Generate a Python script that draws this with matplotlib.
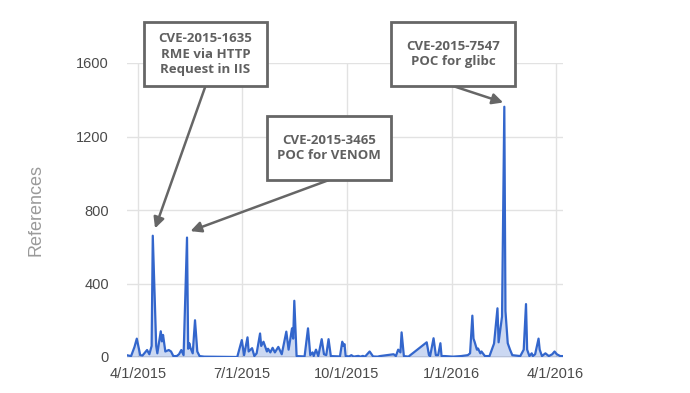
import numpy as np
import pandas as pd
import matplotlib
matplotlib.use("Agg")
import matplotlib.pyplot as plt
from matplotlib.patches import Rectangle

# daily references
dates = [
    "2015-03-22", "2015-03-26", "2015-03-29", "2015-03-31", "2015-04-03", "2015-04-05",
    "2015-04-09", "2015-04-11", "2015-04-13", "2015-04-14", "2015-04-17", "2015-04-18",
    "2015-04-21", "2015-04-22", "2015-04-23", "2015-04-25", "2015-04-28", "2015-04-30",
    "2015-05-02", "2015-05-05", "2015-05-07", "2015-05-09", "2015-05-11", "2015-05-14",
    "2015-05-15", "2015-05-16", "2015-05-17", "2015-05-19", "2015-05-21", "2015-05-23",
    "2015-05-25", "2015-05-29", "2015-06-27", "2015-07-01", "2015-07-03", "2015-07-06",
    "2015-07-07", "2015-07-10", "2015-07-12", "2015-07-14", "2015-07-17", "2015-07-18",
    "2015-07-20", "2015-07-23", "2015-07-24", "2015-07-26", "2015-07-28", "2015-07-30",
    "2015-08-02", "2015-08-05", "2015-08-09", "2015-08-11", "2015-08-14", "2015-08-15",
    "2015-08-16", "2015-08-18", "2015-08-25", "2015-08-28", "2015-08-30", "2015-09-01",
    "2015-09-02", "2015-09-04", "2015-09-06", "2015-09-09", "2015-09-11", "2015-09-13",
    "2015-09-15", "2015-09-17", "2015-09-25", "2015-09-27", "2015-09-28", "2015-09-29",
    "2015-09-30", "2015-10-03", "2015-10-05", "2015-10-07", "2015-10-11", "2015-10-13",
    "2015-10-15", "2015-10-17", "2015-10-21", "2015-10-24", "2015-10-28", "2015-10-30",
    "2015-11-11", "2015-11-13", "2015-11-15", "2015-11-17", "2015-11-18", "2015-11-20",
    "2015-11-24", "2015-12-10", "2015-12-12", "2015-12-13", "2015-12-16", "2015-12-18",
    "2015-12-20", "2015-12-22", "2015-12-23", "2015-12-26", "2016-01-02", "2016-01-09",
    "2016-01-15", "2016-01-17", "2016-01-19", "2016-01-20", "2016-01-21", "2016-01-23",
    "2016-01-24", "2016-01-26", "2016-01-27", "2016-01-30", "2016-02-03", "2016-02-07",
    "2016-02-10", "2016-02-11", "2016-02-14", "2016-02-16", "2016-02-17", "2016-02-19",
    "2016-02-21", "2016-02-23", "2016-03-01", "2016-03-04", "2016-03-06", "2016-03-07",
    "2016-03-09", "2016-03-11", "2016-03-12", "2016-03-14", "2016-03-17", "2016-03-18",
    "2016-03-20", "2016-03-23", "2016-03-26", "2016-03-29", "2016-03-31", "2016-04-02",
    "2016-04-05", "2016-04-07",
]
references = [
    10, 5, 55, 100, 10, 8,
    38, 15, 60, 660, 60, 20,
    140, 85, 120, 30, 38, 30,
    5, 5, 15, 38, 10, 650,
    45, 75, 50, 20, 200, 30,
    5, 2, 0, 92, 10, 107,
    30, 48, 5, 20, 128, 60,
    83, 30, 45, 25, 50, 25,
    55, 15, 138, 40, 156, 100,
    306, 5, 3, 156, 10, 25,
    5, 40, 5, 97, 15, 10,
    97, 5, 3, 83, 60, 70,
    5, 3, 10, 2, 6, 2,
    6, 2, 30, 3, 2, 5,
    15, 5, 40, 25, 134, 5,
    2, 80, 10, 5, 102, 10,
    10, 75, 5, 5, 2, 5,
    10, 20, 225, 100, 82, 40,
    46, 20, 30, 5, 5, 73,
    265, 80, 220, 1362, 250, 75,
    40, 10, 5, 40, 288, 40,
    5, 20, 5, 15, 100, 40,
    5, 20, 5, 15, 30, 15,
    5, 5,
]

tick_dates = ["2015-04-01", "2015-07-01", "2015-10-01", "2016-01-01", "2016-04-01"]
tick_labels = ["4/1/2015", "7/1/2015", "10/1/2015", "1/1/2016", "4/1/2016"]
y_ticks = [0, 400, 800, 1200, 1600]

# annotations: box text, arrow tip (date, value)
notes = ["CVE-2015-1635\nRME via HTTP\nRequest in IIS",
         "CVE-2015-3465\nPOC for VENOM",
         "CVE-2015-7547\nPOC for glibc"]
note_dates = ["2015-04-16", "2015-05-17", "2016-02-15"]
note_values = [700, 685, 1385]

W, H = 690, 393
fig = plt.figure(figsize=(W / 100, H / 100), dpi=100)
ax = fig.add_axes([127 / W, 1 - 357 / H, 436 / W, 294 / H])

x = pd.to_datetime(dates)
ax.fill_between(x, references, 0, color="#3366cc", alpha=0.25, lw=0)
ax.plot(x, references, color="#3366cc", lw=1.6, zorder=3)

ax.set_xlim(pd.Timestamp("2015-03-22 10:00"), pd.Timestamp("2016-04-07 10:00"))
ax.set_ylim(0, 1600)
ax.set_xticks(pd.to_datetime(tick_dates))
ax.set_xticklabels(tick_labels)
ax.set_yticks(y_ticks)
ax.set_yticklabels([str(v) for v in y_ticks])

for t in pd.to_datetime(tick_dates):
    ax.axvline(t, color="#e2e2e2", lw=1, zorder=0)
for v in y_ticks[1:]:
    ax.axhline(v, color="#e2e2e2", lw=1, zorder=0)
ax.axhline(0, color="#666666", lw=1, zorder=2)

for s in ax.spines.values():
    s.set_visible(False)
ax.tick_params(length=0, labelsize=10.5, labelcolor="#4a4a4a")
ax.tick_params(axis="y", pad=13)
ax.tick_params(axis="x", pad=7)
for lab in ax.get_xticklabels() + ax.get_yticklabels():
    lab.set_fontfamily("Liberation Sans")

fig.text(36 / W, 1 - 210 / H, "References", rotation=90, ha="center", va="center",
         fontsize=13, color="#9a9a9a", family="Liberation Sans")

# boxes in pixel coords (left, top, width, height)
boxes = [(144, 22, 123, 64), (267, 116, 124, 64), (391, 22, 124, 64)]
for (bx, by, bw, bh), txt, d, v in zip(boxes, notes, note_dates, note_values):
    fig.patches.append(Rectangle((bx / W, 1 - (by + bh) / H), bw / W, bh / H,
                                 transform=fig.transFigure, fill=True,
                                 facecolor="white", edgecolor="#666666", lw=2,
                                 zorder=5))
    fig.text((bx + bw / 2) / W, 1 - (by + bh / 2) / H, txt, ha="center",
             va="center", fontsize=9.5, fontweight="bold", color="#606060",
             family="Open Sans", linespacing=1.25, zorder=6)
    ax.annotate("", xy=(pd.Timestamp(d), v),
                xytext=((bx + bw / 2) / W, 1 - (by + bh) / H),
                textcoords="figure fraction",
                arrowprops=dict(arrowstyle="-|>", color="#666666", lw=1.8,
                                mutation_scale=16, shrinkA=0, shrinkB=0),
                zorder=6, annotation_clip=False)

fig.savefig("out.png", dpi=100)
